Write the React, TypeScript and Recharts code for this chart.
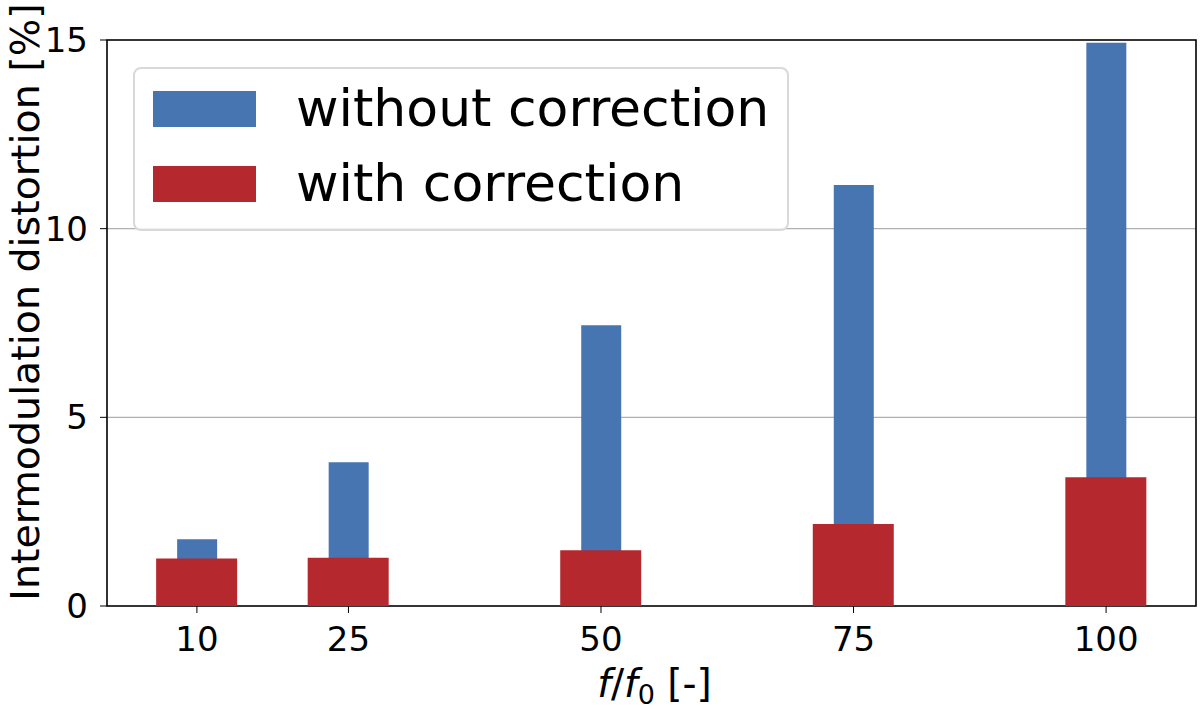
import {
  Bar,
  BarChart,
  CartesianGrid,
  Legend,
  ReferenceArea,
  XAxis,
  YAxis,
} from "recharts";

const ratios = [10, 25, 50, 75, 100];
const withoutCorrection = [1.77, 3.81, 7.44, 11.16, 14.93];
const withCorrection = [1.26, 1.28, 1.48, 2.17, 3.41];
const yTicks = [0, 5, 10, 15];

const BLUE = "#4675b1";
const RED = "#b5292e";
const FONT = "'DejaVu Sans', sans-serif";

const data = ratios.map((f, i) => ({
  f,
  without: withoutCorrection[i],
  with: withCorrection[i],
}));

const legendItems = [
  { label: "without correction", color: BLUE },
  { label: "with correction", color: RED },
];

function LegendBox() {
  return (
    <div
      style={{
        width: 656,
        height: 164,
        boxSizing: "border-box",
        border: "2px solid #d9d9d9",
        borderRadius: 8,
        background: "rgba(255,255,255,0.8)",
        paddingTop: 21,
        paddingLeft: 18,
        fontFamily: FONT,
      }}
    >
      {legendItems.map((item) => (
        <div
          key={item.label}
          style={{ display: "flex", alignItems: "center", height: 37, marginBottom: 38 }}
        >
          <div style={{ width: 103, height: 36, background: item.color }} />
          <span style={{ marginLeft: 40, fontSize: 52, lineHeight: "37px", color: "#000" }}>
            {item.label}
          </span>
        </div>
      ))}
    </div>
  );
}

function XLabel(props: any) {
  const vb = props.viewBox || {};
  const cx = vb.x + vb.width / 2;
  return (
    <text x={cx + 3} y={697} textAnchor="middle" fontSize={39} fontFamily={FONT} fill="#000">
      <tspan fontStyle="italic">f</tspan>
      <tspan>/</tspan>
      <tspan fontStyle="italic">f</tspan>
      <tspan fontSize={27} dy={7}>0</tspan>
      <tspan dy={-7}> [-]</tspan>
    </text>
  );
}

function YLabel() {
  return (
    <text
      x={39}
      y={302}
      transform="rotate(-90, 39, 302)"
      textAnchor="middle"
      fontSize={39.5}
      fontFamily={FONT}
      fill="#000"
    >
      Intermodulation distortion [%]
    </text>
  );
}

export default function App() {
  const tick = { fontSize: 34, fontFamily: FONT, fill: "#000" };
  return (
    <div style={{ position: "absolute", left: 0, top: 0, background: "#fff" }}>
      <BarChart
        width={1200}
        height={709}
        data={data}
        margin={{ top: 40, right: 4, bottom: 0, left: 0 }}
        barGap={0}
      >
        <CartesianGrid vertical={false} stroke="#b0b0b0" strokeWidth={1.2} />
        <XAxis
          xAxisId="blue"
          dataKey="f"
          type="number"
          domain={[1.1, 108.9]}
          allowDataOverflow
          ticks={ratios}
          height={103}
          tickSize={7}
          tickMargin={14}
          tick={tick}
          stroke="#000"
          axisLine={false}
          label={<XLabel />}
        />
        <XAxis
          xAxisId="red"
          dataKey="f"
          type="number"
          domain={[1.1, 108.9]}
          allowDataOverflow
          ticks={ratios}
          hide
        />
        <YAxis
          domain={[0, 15]}
          ticks={yTicks}
          width={107}
          tickSize={7}
          tickMargin={12}
          tick={tick}
          stroke="#000"
          axisLine={false}
          label={<YLabel />}
        />
        <Bar
          xAxisId="blue"
          dataKey="without"
          name="without correction"
          fill={BLUE}
          barSize={40}
          isAnimationActive={false}
        />
        <Bar
          xAxisId="red"
          dataKey="with"
          name="with correction"
          fill={RED}
          barSize={81}
          isAnimationActive={false}
        />
        <ReferenceArea
          xAxisId="blue"
          x1={1.1}
          x2={108.9}
          y1={0}
          y2={15}
          fill="none"
          stroke="#000"
          strokeWidth={1.6}
          ifOverflow="visible"
        />
        <Legend
          layout="vertical"
          align="center"
          verticalAlign="middle"
          content={<LegendBox />}
          wrapperStyle={{ left: 133, top: 67, width: 656, height: 164 }}
        />
      </BarChart>
    </div>
  );
}
